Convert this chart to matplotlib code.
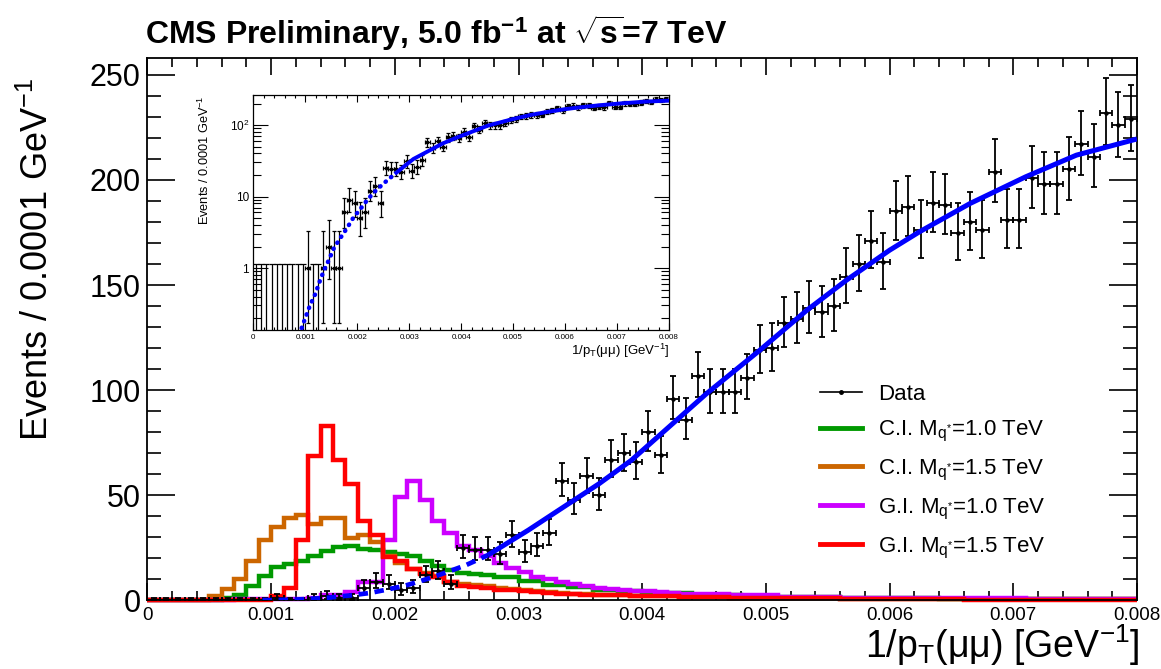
import numpy as np
import matplotlib
matplotlib.use("Agg")
import matplotlib.pyplot as plt
from matplotlib.ticker import MultipleLocator, FixedLocator, FixedFormatter, LogLocator, NullFormatter
from matplotlib.lines import Line2D

plt.rcParams['font.family'] = ['Liberation Sans', 'DejaVu Sans']
plt.rcParams['mathtext.fontset'] = 'custom'
plt.rcParams['mathtext.rm'] = 'Liberation Sans'
plt.rcParams['mathtext.it'] = 'Liberation Sans:italic'
plt.rcParams['mathtext.bf'] = 'Liberation Sans:bold'

# ---------------- data ----------------
x_min, x_max, n_bins = 0.0, 0.008, 80

data_counts = [0, 0, 0, 0, 0, 0, 0, 0, 0, 0,
               1, 0, 0, 1, 2, 1, 1, 6, 9, 8,
               5, 6, 12, 14, 8, 25, 24, 24, 22, 31,
               23, 26, 32, 57, 48, 59, 50, 67, 70, 66,
               80, 69, 96, 86, 107, 99, 99, 99, 106, 119,
               120, 132, 134, 139, 137, 140, 154, 160, 171, 161,
               185, 187, 176, 189, 188, 175, 180, 176, 204, 181,
               181, 201, 198, 198, 205, 217, 211, 232, 226, 229]

ci_10 = [0, 0, 0, 0, 0, 0, 1, 2.5, 7, 11.5,
         16, 17.5, 19, 21, 23.5, 25.5, 26, 24.5, 24, 23,
         22, 21, 19, 16.5, 14.5, 13, 12.5, 12, 11, 11,
         9.5, 9.5, 7.5, 7.5, 6.3, 6.3, 5, 5, 4.4, 4.4,
         3.5, 3.5, 3.5, 3.5, 2.4, 2.4, 2.4, 2.4, 1.6, 1.6,
         1.6, 1.6, 1.6, 1.6, 1.6, 1.6, 1.2, 1.2, 1.2, 1.2,
         1.2, 1.2, 1.2, 1.2, 0.9, 0.9, 0.9, 0.9, 0.9, 0.9,
         0.9, 0.9, 0.7, 0.7, 0.7, 0.7, 0.7, 0.7, 0.7, 0.7]

ci_15 = [0, 0, 0, 0, 0, 2, 5.5, 10, 19, 29,
         35, 39, 40.5, 36.5, 39.4, 39.4, 29.5, 31, 28, 21,
         18, 15, 13, 11.5, 9, 8, 7.5, 7, 6, 5.5,
         5, 4.5, 4, 3.6, 3.3, 3, 2.7, 2.7, 2.7, 2.2,
         2.2, 2.2, 2.2, 1.8, 1.8, 1.8, 1.8, 1.3, 1.3, 1.3,
         1.3, 1.3, 1.3, 1.3, 1.3, 1.3, 0.9, 0.9, 0.9, 0.9,
         0.9, 0.9, 0.9, 0.9, 0.9, 0.9, 0.6, 0.6, 0.6, 0.6,
         0.6, 0.6, 0.6, 0.6, 0.6, 0.6, 0.6, 0.6, 0.6, 0.6]

gi_10 = [0, 0, 0, 0, 0, 0, 0, 0.5, 0.5, 0.5,
         0.5, 0.5, 0.5, 1, 2.4, 2.6, 4, 8.7, 9, 28.6,
         49, 57, 48, 38, 32, 26, 24, 21, 18, 15.5,
         13.5, 11, 10, 8.7, 8, 7, 6, 5.5, 5, 4.5,
         4.4, 4, 3.5, 3, 3, 3, 3, 2.4, 2.4, 2.4,
         2.4, 1.8, 1.8, 1.8, 1.8, 1.8, 1.4, 1.4, 1.4, 1.4,
         1.4, 1.4, 1.4, 1.0, 1.0, 1.0, 1.0, 1.0, 1.0, 1.0,
         1.0, 0.6, 0.6, 0.6, 0.6, 0.6, 0.6, 0.6, 0.6, 0.6]

gi_15 = [0, 0, 0, 0, 0, 0, 0, 0, 0, 0,
         2, 6, 29, 68.6, 83, 66.7, 55.5, 38, 31, 20.6,
         19, 15, 12.7, 11, 8.7, 7, 6.3, 6, 5, 4.8,
         4.4, 4, 3.5, 3.2, 3, 2.8, 2.4, 2.4, 2.4, 2,
         2, 2, 2, 1.6, 1.6, 1.6, 1.6, 1.1, 1.1, 1.1,
         1.1, 1.1, 1.1, 1.1, 1.1, 1.1, 0.7, 0.7, 0.7, 0.7,
         0.7, 0.7, 0.7, 0.7, 0.7, 0.7, 0.4, 0.4, 0.4, 0.4,
         0.4, 0.4, 0.4, 0.4, 0.4, 0.4, 0.4, 0.4, 0.4, 0.4]

# background fit
fit_dash_x = [0.00093, 0.00101, 0.00109, 0.00119, 0.00127, 0.00136, 0.00146, 0.00155,
              0.00167, 0.0018, 0.00192, 0.00208, 0.00221, 0.00237, 0.00257, 0.00275]
fit_dash_y = [0.145, 0.21, 0.30, 0.43, 0.63, 0.93, 1.33, 1.9,
              2.6, 3.6, 5.0, 7.0, 9.3, 12.4, 16.7, 21.5]
fit_solid_x = [0.00275, 0.00308, 0.00365, 0.00391, 0.00452, 0.00495, 0.00533, 0.00565,
               0.006, 0.00624, 0.00665, 0.0071, 0.00751, 0.008]
fit_solid_y = [21.5, 33.5, 55.5, 66.6, 98.4, 119, 138, 152.3,
               166.6, 175.3, 188.8, 201.5, 211.8, 219.5]

labels = ["Data",
          r"C.I. M$_{\mathrm{q}^{*}}$=1.0 TeV",
          r"C.I. M$_{\mathrm{q}^{*}}$=1.5 TeV",
          r"G.I. M$_{\mathrm{q}^{*}}$=1.0 TeV",
          r"G.I. M$_{\mathrm{q}^{*}}$=1.5 TeV"]
colors = ["#009900", "#CC6600", "#CC00FF", "#FF0000"]

# ---------------- helpers ----------------
edges = np.linspace(x_min, x_max, n_bins + 1)
centers = 0.5 * (edges[:-1] + edges[1:])
half_w = 0.5 * (edges[1] - edges[0])
counts = np.array(data_counts, dtype=float)


def pois_cdf(n, mu):
    term = np.exp(-mu)
    s = term
    for k in range(1, n + 1):
        term *= mu / k
        s += term
    return s


def solve(f, lo, hi):
    for _ in range(70):
        mid = 0.5 * (lo + hi)
        if f(mid) > 0:
            lo = mid
        else:
            hi = mid
    return 0.5 * (lo + hi)


alpha = 0.158655
err_lo, err_hi = [], []
for n in data_counts:
    top = n + 10 * np.sqrt(n) + 10
    if n == 0:
        up = solve(lambda m: pois_cdf(0, m) - 2 * alpha, 0.0, top)
        err_lo.append(0.0)
        err_hi.append(up)
    else:
        up = solve(lambda m: pois_cdf(n, m) - alpha, 0.0, top)
        lo = solve(lambda m: pois_cdf(n - 1, m) - (1 - alpha), 0.0, top)
        err_lo.append(n - lo)
        err_hi.append(up - n)
err_lo = np.array(err_lo)
err_hi = np.array(err_hi)

# ---------------- figure ----------------
fig = plt.figure(figsize=(11.61, 6.69), dpi=100)
ax = fig.add_axes([0.12704, 0.1024, 0.85229, 0.8109])

for vals, c in zip([ci_10, ci_15, gi_10, gi_15], colors):
    ax.stairs(vals, edges, baseline=None, color=c, linewidth=3.2, zorder=2, clip_on=False)

ax.errorbar(centers, counts, yerr=[err_lo, err_hi], xerr=half_w, fmt='o', ms=2.2,
            color='black', elinewidth=1.3, capsize=2.2, capthick=1.3, zorder=3)

ax.plot(fit_dash_x, fit_dash_y, color='#0000FF', linewidth=3.4,
        linestyle=(0, (2.0, 1.4)), zorder=4)
ax.plot(fit_solid_x, fit_solid_y, color='#0000FF', linewidth=3.6, zorder=4,
        solid_capstyle='butt')

ax.set_xlim(x_min, x_max)
ax.set_ylim(0, 258)
ax.xaxis.set_major_locator(FixedLocator([0, 0.001, 0.002, 0.003, 0.004, 0.005, 0.006, 0.007, 0.008]))
ax.xaxis.set_major_formatter(FixedFormatter(["0", "0.001", "0.002", "0.003", "0.004",
                                             "0.005", "0.006", "0.007", "0.008"]))
ax.xaxis.set_minor_locator(MultipleLocator(0.0002))
ax.yaxis.set_major_locator(MultipleLocator(50))
ax.yaxis.set_minor_locator(MultipleLocator(10))
ax.tick_params(axis='both', which='both', direction='in', top=True, right=True, width=1.2)
ax.tick_params(axis='x', which='major', length=12, labelsize=13.5, pad=5)
ax.tick_params(axis='x', which='minor', length=6.5)
ax.tick_params(axis='y', which='major', length=20, labelsize=22, pad=5)
ax.tick_params(axis='y', which='minor', length=10)
for sp in ax.spines.values():
    sp.set_linewidth(1.3)

ax.set_ylabel(r"Events / 0.0001 GeV$^{-1}$", fontsize=26, loc='top')
ax.yaxis.set_label_coords(-0.092, 0.963)
ax.set_xlabel(r"1/p$_{\mathrm{T}}$(μμ) [GeV$^{-1}$]", fontsize=27, loc='right')
ax.xaxis.set_label_coords(1.003, -0.040)

fig.text(0.1249, 0.934, r"CMS Preliminary, 5.0 fb$^{\mathbf{-1}}$ at $\sqrt{\mathbf{s}}$=7 TeV",
         fontsize=23, fontweight='bold', ha='left', va='baseline')

handles = [Line2D([], [], color='black', marker='o', ms=2.5, lw=1.2)]
handles += [Line2D([], [], color=c, lw=3.5) for c in colors]
ax.legend(handles, labels, loc='upper left', bbox_to_anchor=(0.7063, 0.426),
          bbox_transform=fig.transFigure, frameon=False, fontsize=16,
          handlelength=1.9, handletextpad=0.7, labelspacing=0.62,
          borderpad=0, borderaxespad=0)

# ---------------- inset ----------------
ai = fig.add_axes([0.2182, 0.5067, 0.3581, 0.3513])
ai.set_yscale('log')
ai.set_xlim(x_min, x_max)
ai.set_ylim(0.136, 263)

nz = counts > 0
ai.errorbar(centers[nz], counts[nz], yerr=[err_lo[nz], err_hi[nz]], xerr=half_w,
            fmt='s', ms=1.6, color='black', elinewidth=0.9, capsize=1.3, capthick=0.9, zorder=3)
zb = ~nz
ai.errorbar(centers[zb], err_hi[zb], yerr=[err_hi[zb] - 1e-4, np.zeros(zb.sum())],
            fmt='none', ecolor='black', elinewidth=0.9, capsize=2.0, capthick=0.9, zorder=3)
ai.plot(fit_dash_x, fit_dash_y, color='#0000FF', linewidth=3.2,
        linestyle=(0, (0.1, 1.5)), dash_capstyle='round', zorder=4)
ai.plot(fit_solid_x, fit_solid_y, color='#0000FF', linewidth=2.8, zorder=4)

ai.xaxis.set_major_locator(FixedLocator([0, 0.001, 0.002, 0.003, 0.004, 0.005, 0.006, 0.007, 0.008]))
ai.xaxis.set_major_formatter(FixedFormatter(["0", "0.001", "0.002", "0.003", "0.004",
                                             "0.005", "0.006", "0.007", "0.008"]))
ai.xaxis.set_minor_locator(MultipleLocator(0.0002))
ai.yaxis.set_major_locator(FixedLocator([1, 10, 100]))
ai.yaxis.set_major_formatter(FixedFormatter(["1", "10", r"10$^{2}$"]))
ai.yaxis.set_minor_locator(LogLocator(base=10, subs=np.arange(2, 10)))
ai.yaxis.set_minor_formatter(NullFormatter())
ai.tick_params(axis='both', which='both', direction='in', top=True, right=True, width=0.8)
ai.tick_params(axis='x', which='major', length=5, labelsize=5.8, pad=3)
ai.tick_params(axis='x', which='minor', length=2.5)
ai.tick_params(axis='y', which='major', length=11, labelsize=8.5, pad=3)
ai.tick_params(axis='y', which='minor', length=5.5)
for sp in ai.spines.values():
    sp.set_linewidth(0.9)
ai.set_ylabel(r"Events / 0.0001 GeV$^{-1}$", fontsize=9.2, loc='top')
ai.yaxis.set_label_coords(-0.100, 1.0)
ai.set_xlabel(r"1/p$_{\mathrm{T}}$(μμ) [GeV$^{-1}$]", fontsize=9.5, loc='right')
ai.xaxis.set_label_coords(1.0, -0.05)

fig.savefig("out.png", dpi=100)
